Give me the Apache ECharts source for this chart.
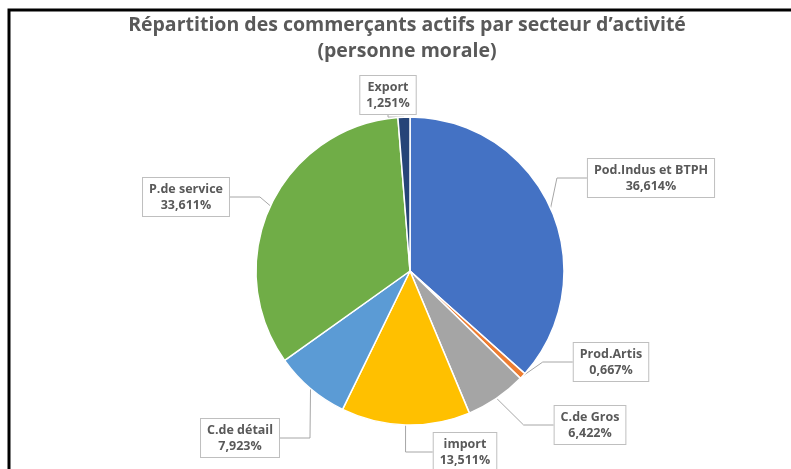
<!DOCTYPE html>
<html>
<head>
<meta charset="utf-8">
<script src="https://cdn.jsdelivr.net/npm/echarts@6/dist/echarts.min.js"></script>
<style>
  html, body { margin: 0; padding: 0; background: #fff; }
  #chart { width: 791px; height: 469px; }
</style>
</head>
<body>
<div id="chart"></div>
<script>
// secteurs, dans l'ordre horaire depuis midi
const categories = ["Pod.Indus et BTPH", "Prod.Artis", "C.de Gros", "import", "C.de détail", "P.de service", "Export"]
const values = [36.614, 0.667, 6.422, 13.511, 7.923, 33.611, 1.251]
const colors = ["#4472C4", "#ED7D31", "#A5A5A5", "#FFC000", "#5B9BD5", "#70AD47", "#264478"]

// centre des étiquettes (px)
const labelPos = [[651, 178], [611, 362], [590, 425], [465, 452], [240, 438], [186, 197], [388, 95]]

const chart = echarts.init(document.getElementById("chart"))

const fmt = v => v.toFixed(3).replace(".", ",") + "%"

chart.setOption({
	animation: false,
	title: {
		text: "Répartition des commerçants actifs par secteur d’activité\n(personne morale)",
		left: 402,
		textAlign: "center",
		top: 7,
		textStyle: {
			fontFamily: "Open Sans",
			fontSize: 19.5,
			fontWeight: "bold",
			color: "#595959",
			lineHeight: 26
		}
	},
	graphic: [
		{
			type: "polyline",
			shape: { points: [[9, 469], [9, 10], [791, 10]] },
			style: { stroke: "#000", lineWidth: 3, fill: null }
		}
	],
	series: [
		{
			type: "pie",
			center: [410, 271],
			radius: 154,
			startAngle: 90,
			clockwise: true,
			data: categories.map((c, i) => ({ name: c, value: values[i], itemStyle: { color: colors[i] } })),
			itemStyle: { borderColor: "#fff", borderWidth: 1.5 },
			label: {
				show: true,
				formatter: p => p.name + "\n" + fmt(p.value),
				fontFamily: "Open Sans",
				fontSize: 12.5,
				fontWeight: "bold",
				color: "#595959",
				lineHeight: 16,
				align: "center",
				backgroundColor: "#fff",
				borderColor: "#BFBFBF",
				borderWidth: 1,
				padding: [3, 6]
			},
			labelLine: {
				show: true,
				lineStyle: { color: "#A6A6A6", width: 1 }
			},
			labelLayout: p => ({
				x: labelPos[p.dataIndex][0],
				y: labelPos[p.dataIndex][1],
				align: "center",
				verticalAlign: "middle"
			})
		}
	]
})
</script>
</body>
</html>
